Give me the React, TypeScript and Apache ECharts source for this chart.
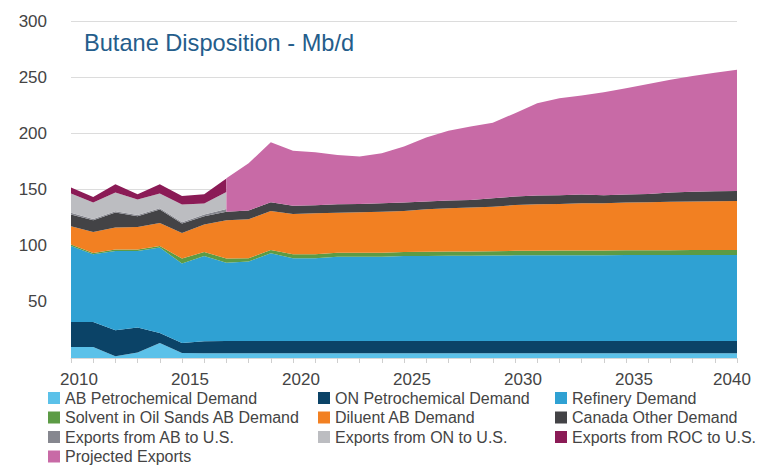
import React, { useEffect, useRef } from "react";
import * as echarts from "echarts";

// ---------- data ----------
const years = [
  2010, 2011, 2012, 2013, 2014, 2015, 2016, 2017, 2018, 2019, 2020,
  2021, 2022, 2023, 2024, 2025, 2026, 2027, 2028, 2029, 2030,
  2031, 2032, 2033, 2034, 2035, 2036, 2037, 2038, 2039, 2040,
];
const xTickLabels = [2010, 2015, 2020, 2025, 2030, 2035, 2040];
const yTickLabels = [50, 100, 150, 200, 250, 300];

// 2010 - 2040
const abPetro = [9.8, 9.8, 1.5, 4.8, 13.4, 4.5, 4.3, 4.3, 4.3, 4.3, 4.3, 4.3, 4.3, 4.3, 4.3, 4.3, 4.3, 4.3, 4.3, 4.3, 4.3, 4.3, 4.3, 4.3, 4.3, 4.3, 4.3, 4.3, 4.3, 4.3, 4.3];
const onPetro = [22.2, 22.2, 23.2, 22.3, 8.9, 8.9, 10.6, 10.8, 10.8, 10.8, 10.8, 10.8, 10.8, 10.8, 10.8, 10.8, 10.8, 10.8, 10.8, 10.8, 10.8, 10.8, 10.8, 10.8, 10.8, 10.8, 10.8, 10.8, 10.8, 10.8, 10.8];
const refinery = [67.7, 60.3, 70.6, 68.2, 76, 70.7, 76, 69.7, 70.7, 78.1, 73.7, 73.7, 75.1, 75.1, 75.1, 75.7, 75.8, 75.9, 76, 76.1, 76.3, 76.3, 76.4, 76.4, 76.4, 76.5, 76.5, 76.5, 76.6, 76.6, 76.6];
const solvent = [1.3, 1.2, 1.2, 1.2, 1.4, 4.4, 3.5, 3.8, 3.0, 3.0, 3.5, 3.5, 3.6, 3.6, 3.6, 3.6, 3.7, 3.8, 3.8, 3.9, 4.0, 4.0, 4.1, 4.1, 4.2, 4.3, 4.3, 4.4, 4.4, 4.5, 4.5];
const diluent = [16.3, 18.7, 19.6, 20.2, 20.5, 22.8, 24.4, 34, 34.7, 34.7, 35.9, 36.5, 35.6, 35.9, 36.5, 36.5, 37.8, 38.5, 39, 39.6, 40.8, 41.4, 41.5, 42.2, 42.1, 42.5, 42.8, 43, 43.2, 43.4, 43.6];
const canadaOther = [10.4, 10.4, 13.4, 9.5, 11.9, 8.4, 7.4, 7.6, 7.7, 7.8, 7.4, 7.1, 7.4, 7.4, 7.4, 7.5, 6.9, 6.8, 6.8, 7.5, 7.5, 7.8, 7.8, 7.7, 7.1, 7.1, 7.4, 8.3, 8.6, 8.9, 8.9];

// historical exports, 2010 - 2017
const exportsAB = [1.5, 1.2, 1.2, 1.2, 1.2, 1.2, 1.5, 2.5];
const exportsON = [17.2, 14.6, 16.6, 13.6, 13.1, 15.7, 9.8, 15.1];
const exportsROC = [5.3, 4.9, 7.4, 4.8, 8.3, 7.7, 8.3, 12];

// projected exports, 2017 - 2040
const projected = [29.8, 42.2, 53.3, 49, 47.2, 44, 42.2, 44.6, 49.8, 56.9, 62.3, 65.3, 67.3, 74.2, 82.2, 86.4, 88.1, 91.7, 94.7, 97.9, 100.3, 103.1, 105.5, 107.8];

const names = {
  abPetro: "AB Petrochemical Demand",
  onPetro: "ON Petrochemical Demand",
  refinery: "Refinery Demand",
  solvent: "Solvent in Oil Sands AB Demand",
  diluent: "Diluent AB Demand",
  canadaOther: "Canada Other Demand",
  exportsAB: "Exports from AB to U.S.",
  exportsON: "Exports from ON to U.S.",
  exportsROC: "Exports from ROC to U.S.",
  projected: "Projected Exports",
};

const colors = {
  abPetro: "#5bc1e9",
  onPetro: "#0b4367",
  refinery: "#2fa1d3",
  solvent: "#5c9b45",
  diluent: "#f28022",
  canadaOther: "#434346",
  exportsAB: "#86878f",
  exportsON: "#bcbdc1",
  exportsROC: "#8b1b56",
  projected: "#c86aa6",
};

const FONT = "'Liberation Sans', Arial, sans-serif";
const TEXT = "#444444";

export default function App() {
  const ref = useRef<HTMLDivElement>(null);

  useEffect(() => {
    if (!ref.current) return;
    const chart = echarts.init(ref.current, null, { renderer: "svg" });

    // The historical/projected split year appears twice so that the export
    // areas end and the projected area begins with a vertical edge.
    // Items are [value, year] so the value is the stacked dimension (stack by index).
    const split = years.indexOf(2017);
    const xs = [...years.slice(0, split + 1), ...years.slice(split)];
    const full = (arr: number[]) =>
      xs.map((x, i) => [arr[i <= split ? i : i - 1], x]);
    const hist = (arr: number[]) =>
      xs.map((x, i) => [i <= split ? arr[i] : null, x]);
    const proj = (arr: number[]) =>
      xs.map((x, i) => [i <= split ? null : arr[i - 1 - split], x]);

    const mk = (key: keyof typeof names, data: any[]) => ({
      name: names[key],
      type: "line",
      stack: "total",
      data,
      encode: { x: 1, y: 0 },
      color: colors[key],
      symbol: "none",
      showSymbol: false,
      lineStyle: { width: 0, color: colors[key] },
      itemStyle: { color: colors[key] },
      areaStyle: { color: colors[key], opacity: 1 },
      connectNulls: false,
      silent: true,
    });

    const legendBase = {
      orient: "vertical",
      top: 390,
      itemWidth: 12,
      itemHeight: 12,
      itemGap: 3.5,
      padding: 0,
      icon: "rect",
      selectedMode: false,
      textStyle: { fontFamily: FONT, fontSize: 16, color: TEXT, lineHeight: 16 },
    };

    chart.setOption({
      animation: false,
      title: {
        text: "Butane Disposition - Mb/d",
        left: 84,
        top: 31,
        padding: 0,
        textStyle: { fontFamily: FONT, fontSize: 23.6, fontWeight: "normal", color: "#245d8b" },
      },
      grid: { left: 71, right: 35, top: 21, bottom: 108 },
      xAxis: {
        type: "value",
        min: xTickLabels[0],
        max: xTickLabels[xTickLabels.length - 1],
        interval: 5,
        axisLine: { show: true, lineStyle: { color: "#d9d9d9" } },
        axisTick: { show: true, length: 5, lineStyle: { color: "#cfcfcf" } },
        minorTick: { show: true, splitNumber: 5, length: 5, lineStyle: { color: "#cfcfcf" } },
        splitLine: { show: false },
        axisLabel: {
          margin: 13,
          fontFamily: FONT,
          fontSize: 17,
          color: TEXT,
          formatter: (v: number) => (v === 2040 ? `{e|${v}}` : `{n|${v}}`),
          rich: {
            n: { padding: [0, 0, 0, 16], fontFamily: FONT, fontSize: 17, color: TEXT },
            e: { padding: [0, 10, 0, 0], fontFamily: FONT, fontSize: 17, color: TEXT },
          },
        },
      },
      yAxis: {
        type: "value",
        min: 0,
        max: yTickLabels[yTickLabels.length - 1],
        interval: 50,
        axisLine: { show: false },
        axisTick: { show: false },
        splitLine: { lineStyle: { color: "#dcdcdc", width: 1 } },
        axisLabel: {
          margin: 24,
          fontFamily: FONT,
          fontSize: 17,
          color: TEXT,
          padding: [0, 0, 12, 0],
          formatter: (v: number) => (yTickLabels.includes(v) ? String(v) : ""),
        },
      },
      legend: [
        { ...legendBase, left: 48, data: [names.abPetro, names.solvent, names.exportsAB, names.projected] },
        { ...legendBase, left: 318, data: [names.onPetro, names.diluent, names.exportsON] },
        { ...legendBase, left: 555, data: [names.refinery, names.canadaOther, names.exportsROC] },
      ],
      series: [
        mk("abPetro", full(abPetro)),
        mk("onPetro", full(onPetro)),
        mk("refinery", full(refinery)),
        mk("solvent", full(solvent)),
        mk("diluent", full(diluent)),
        mk("canadaOther", full(canadaOther)),
        mk("exportsAB", hist(exportsAB)),
        mk("exportsON", hist(exportsON)),
        mk("exportsROC", hist(exportsROC)),
        mk("projected", proj(projected)),
      ],
    });

    return () => chart.dispose();
  }, []);

  return (
    <div
      ref={ref}
      style={{ position: "absolute", left: 0, top: 0, width: 772, height: 466 }}
    />
  );
}
